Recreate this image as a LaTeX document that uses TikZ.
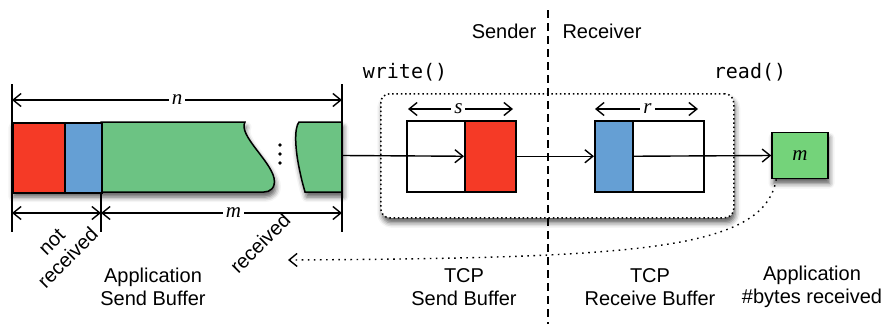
\documentclass[tikz,border=0pt]{standalone}
\usepackage{fontspec}
\setmainfont{Liberation Sans}
\newfontfamily\varfont{Liberation Serif}
\newfontfamily\codefont{DejaVu Sans Mono}
\usetikzlibrary{arrows.meta,shadows.blur}
\definecolor{segred}{HTML}{F53A26}
\definecolor{segblue}{HTML}{659FD4}
\definecolor{seggreen}{HTML}{6CC383}
\definecolor{boxgreen}{HTML}{74D37A}

\begin{document}
\begin{tikzpicture}[x=1pt,y=-1pt,
  >={Straight Barb[length=8pt,width=13pt]},
  outline/.style={draw=black, line width=1.5pt},
  dim/.style={<->, line width=1.4pt},
  flow/.style={->, line width=1.4pt},
  tick/.style={line width=1.4pt},
  sh/.style={blur shadow={shadow xshift=1.5pt, shadow yshift=-5pt,
      shadow blur radius=5pt, shadow opacity=65}},
  lbl/.style={font=\fontsize{20}{23}\selectfont, align=center, inner sep=0pt},
  var/.style={font=\fontsize{21}{24}\selectfont\varfont\itshape, fill=white, inner sep=3pt},
  code/.style={font=\fontsize{20}{24}\selectfont\codefont, inner sep=0pt},
  cell/.style={outline, minimum height=71pt, inner sep=0pt, anchor=north west},
  strip/.style={outline, minimum height=70pt, inner sep=0pt, anchor=north west}]

\useasboundingbox (0,0) rectangle (887,324);

% ---------- application send buffer (broken strip) ----------
\path[sh, fill=white]
  (12,122) -- (245,122) .. controls (238,135) and (270,160) .. (274,178)
  .. controls (276,188) and (270,192) .. (264,192) -- (12,192) -- cycle;
\path[outline, fill=seggreen]
  (101,122) -- (245,122) .. controls (238,135) and (270,160) .. (274,178)
  .. controls (276,188) and (270,192) .. (264,192) -- (101,192) -- cycle;
\path[sh, outline, fill=seggreen]
  (342,122) -- (299,122) .. controls (294,128) and (295,150) .. (300,172)
  .. controls (302,182) and (304,188) .. (305,192) -- (342,192) -- cycle;
\node[strip, minimum width=52pt, fill=segred] (nrcv) at (12,122) {};
\node[strip, minimum width=37pt, fill=segblue] (inflight) at (64,122) {};
\foreach \yy in {145,154,163} \fill (280,\yy) circle (1.8pt);

% ---------- dimension lines of the strip ----------
\coordinate (tl) at (12,84);   \coordinate (bl) at (12,232);
\coordinate (tr) at (342,84);  \coordinate (br) at (342,232);
\coordinate (mt) at (101,192); \coordinate (mb) at (101,232);
\draw[tick] (tl) -- (bl);
\draw[tick] (tr) -- (br);
\draw[tick] (mt) -- (mb);
\coordinate (nL) at (12,100);  \coordinate (nR) at (342,100);
\draw[dim] (nL) -- (nR) node[midway, var] (nlab) {n};
\coordinate (aL) at (12,213);  \coordinate (aM) at (101,213); \coordinate (aR) at (342,213);
\draw[dim] (aL) -- (aM);
\draw[dim] (aM) -- (aR) node[pos=0.55, var] (mlab) {m};

% ---------- TCP buffers ----------
\node[draw, line width=1.5pt, dash pattern=on 1.5pt off 2.8pt, rounded corners=9pt,
      minimum width=353pt, minimum height=124pt, anchor=north west, fill=white, sh]
      (tcpbox) at (380,93) {};

\coordinate (divtop) at (548,10);
\coordinate (divbot) at (548,324);
\draw[line width=1.5pt, dash pattern=on 8pt off 5pt] (divtop) -- (divbot);

\node[cell, minimum width=109pt, fill=white] (sbox) at (406,120) {};
\node[cell, minimum width=51pt, fill=segred] (sred) at (464,120) {};
\node[cell, minimum width=109pt, fill=white] (rbox) at (594,120) {};
\node[cell, minimum width=38pt, fill=segblue] (rblue) at (594,120) {};

\coordinate (sL) at (408,109); \coordinate (sR) at (513,109);
\draw[dim] (sL) -- (sR) node[pos=0.48, var] (slab) {s};
\coordinate (rL) at (595,109); \coordinate (rR) at (698,109);
\draw[dim] (rL) -- (rR) node[pos=0.51, var] (rlab) {r};

% ---------- application receive counter ----------
\node[outline, fill=boxgreen, minimum width=56pt, minimum height=46pt, inner sep=0pt, sh,
      font=\fontsize{21}{24}\selectfont\varfont\itshape] (mbox) at (800,155.5) {m};

% ---------- data flow ----------
\coordinate (stripout) at (342,155.5);
\draw[flow] (stripout) -- (sred.west);
\draw[flow] (sred.east) -- (rblue.west);
\draw[flow] (rblue.east) -- (mbox.west);
\coordinate (back) at (288,260);
\draw[->, line width=1.4pt, dash pattern=on 1.6pt off 4.5pt]
  ([xshift=5pt]mbox.south west) .. controls (764,250) and (640,258) .. (back);

% ---------- labels ----------
\node[lbl] (sender) at (504,31) {Sender};
\node[lbl] (receiver) at (602,31) {Receiver};
\node[code] (write) at (405,72) {write()};
\node[code] (read) at (750,72) {read()};
\node[lbl, rotate=45] (notrcv) at (60,250) {not\\received};
\node[lbl, rotate=45] (rcv) at (260,243) {received};
\node[lbl] (appsend) at (153,287) {Application\\Send Buffer};
\node[lbl] (tcpsend) at (464,287) {TCP\\Send Buffer};
\node[lbl] (tcprecv) at (650,287) {TCP\\Receive Buffer};
\node[lbl] (apprecv) at (812,287) {Application\\\#bytes received};
\end{tikzpicture}
\end{document}
